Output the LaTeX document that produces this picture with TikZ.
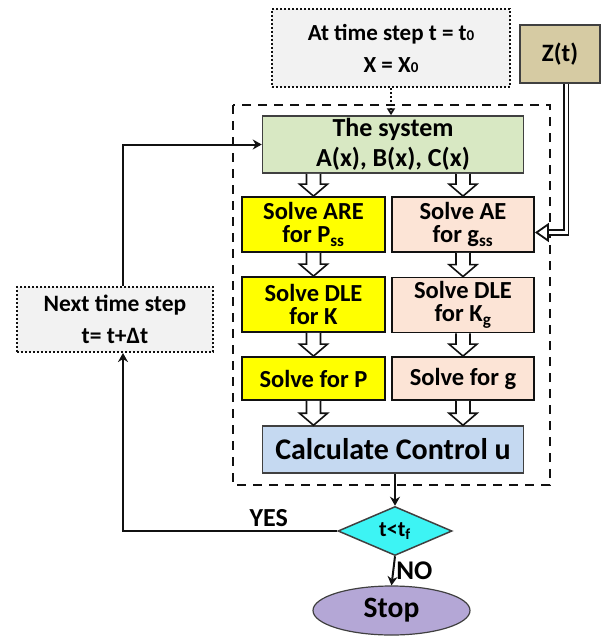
\documentclass[tikz,border=0pt]{standalone}
\usepackage{fontspec}
\setmainfont{Carlito}
\usepackage{tikz}
\usetikzlibrary{arrows.meta,positioning,shapes,calc}
\definecolor{ink}{HTML}{111111}
\definecolor{inkgray}{HTML}{404040}
\definecolor{startbg}{HTML}{F2F2F2}
\definecolor{ztbg}{HTML}{D6CBA3}
\definecolor{sysbg}{HTML}{D8E8C3}
\definecolor{yelbg}{HTML}{FFFF00}
\definecolor{peachbg}{HTML}{FCE4D6}
\definecolor{calcbg}{HTML}{C5D9F1}
\definecolor{decbg}{HTML}{3DF4F4}
\definecolor{stopbg}{HTML}{B4A7D6}
\newcommand{\fsz}[2]{\fontsize{#1}{#2}\selectfont\bfseries}
\newcommand{\lowsub}[1]{{\fontsize{15}{15}\selectfont #1}}
\tikzset{
  card/.style={draw=ink,line width=1.8pt,align=center,inner sep=2pt,
               font=\fsz{24.5}{23}},
  yelcard/.style={card,fill=yelbg,minimum width=143pt},
  peachcard/.style={card,fill=peachbg,minimum width=142pt},
  widecard/.style={card,draw=inkgray,line width=1.5pt,minimum width=261pt},
  ghostcard/.style={draw=ink,fill=startbg,line width=2pt,dotted,
                    align=center,font=\fsz{23}{32}},
  frame/.style={draw=ink,line width=2pt,dash pattern=on 9pt off 7pt},
  thinarr/.style={-{Stealth[length=9pt,width=10pt]},line width=2pt,draw=ink},
  dotarr/.style={-{Triangle[open,length=7pt,width=8pt]},line width=2pt,
                 dotted,draw=ink},
  zarr/.style={-{Triangle[open,length=14pt,width=19pt]},line width=1.8pt,
               double=white,double distance=3pt,draw=ink},
  hollowarr/.style={draw=ink,line width=1.6pt,fill=white,line join=miter,
    to path={let \p1=(\tikztostart),\p2=(\tikztotarget) in
      (\x1-7pt,\y1) -- (\x1-7pt,\y2+12pt) -- (\x1-14pt,\y2+12pt) -- (\x2,\y2)
      -- (\x1+14pt,\y2+12pt) -- (\x1+7pt,\y2+12pt) -- (\x1+7pt,\y1)}}
}
\begin{document}
\begin{tikzpicture}[x=1pt,y=-1pt]
    \path[use as bounding box] (0,0) rectangle (603,637);
    % dashed frame round the solver
    \draw[frame] (233,105) rectangle (550,485);
    % start and input
    \node[ghostcard,minimum width=238pt,minimum height=78pt] (start) at (391,48)
      {At time step t = t\lowsub{0}\\X = X\lowsub{0}};
    \node[card,draw=inkgray,line width=1.5pt,fill=ztbg,minimum width=80pt,
      minimum height=58pt,font=\fsz{25}{28}] (zt) at (560,54) {Z(t)};
    % solver blocks
    \node[widecard,fill=sysbg,minimum height=57pt,font=\fsz{26}{30}] (sys)
      at (393,144.5) {The system\\A(x), B(x), C(x)};
    \node[yelcard,minimum height=55pt] (are) at (313.5,224.5)
      {Solve ARE\\for P\textsubscript{ss}};
    \node[peachcard,minimum height=55pt] (ae) at (463,224.5)
      {Solve AE\\for g\textsubscript{ss}};
    \node[yelcard,minimum height=55pt] (dlek) at (313.5,304.5)
      {Solve DLE\\for K};
    \node[peachcard,minimum height=55pt] (dlekg) at (463,305)
      {Solve DLE\\for K\textsubscript{g}};
    \node[yelcard,minimum height=43pt] (solp) at (313.5,378.5) {Solve for P};
    \node[peachcard,minimum height=43pt] (solg) at (463,378.5) {Solve for g};
    \node[widecard,fill=calcbg,minimum height=47pt,font=\fsz{30}{34}] (calc)
      at (393,449.5) {Calculate Control u};
    % loop and stop
    \node[diamond,draw=inkgray,line width=1.5pt,fill=decbg,minimum width=114pt,
      minimum height=43pt,inner sep=0pt,font=\fsz{22}{24}] (dec) at (395,531)
      {t<t\textsubscript{f}};
    \node[ellipse,draw=inkgray,line width=1.2pt,fill=stopbg,minimum width=157pt,
      minimum height=49pt,font=\fsz{29.5}{32}] (stop) at (391.5,610.5) {Stop};
    \node[ghostcard,minimum width=196pt,minimum height=65pt,font=\fsz{23.5}{32}]
      (next) at (115,319.5) {Next time step\\t= t+Δt};

    \draw[dotarr] (start.south) -- (start.south |- sys.north);
    \draw[zarr] ([xshift=6pt]zt.south) |- ([yshift=-8pt]ae.east);
    \draw[hollowarr] (sys.south -| are.north) to (are.north);
    \draw[hollowarr] (sys.south -| ae.north) to (ae.north);
    \draw[hollowarr] (are.south) to (dlek.north);
    \draw[hollowarr] (ae.south) to (dlekg.north);
    \draw[hollowarr] (dlek.south) to (solp.north);
    \draw[hollowarr] (dlekg.south) to (solg.north);
    \draw[hollowarr] (solp.south) to (calc.north -| solp.south);
    \draw[hollowarr] (solg.south) to (calc.north -| solg.south);
    \draw[thinarr] (calc.south -| dec.north) -- (dec.north);
    \draw[thinarr] (dec.south) -- node[right,font=\fsz{27}{30},inner sep=2pt] {NO}
      (stop.north);
    \draw[thinarr] (dec.west) -| node[pos=0.16,above,font=\fsz{26}{30}] {YES}
      ([xshift=8pt]next.south);
    \draw[thinarr] ([xshift=8pt]next.north) |- (sys.west);
  \end{tikzpicture}
\end{document}
